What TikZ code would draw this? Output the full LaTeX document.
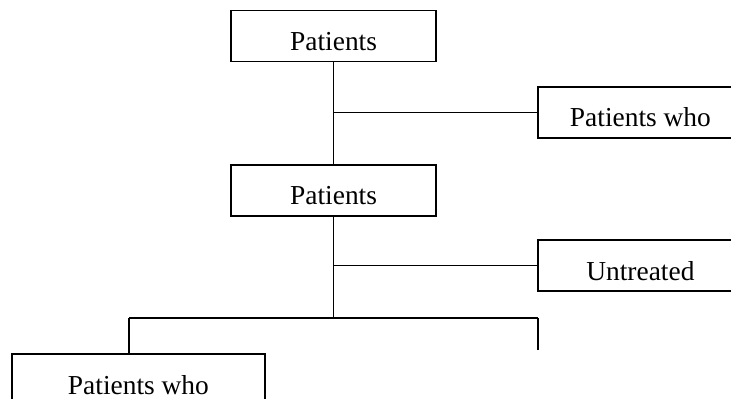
\documentclass[tikz,border=0pt]{standalone}
\usepackage{fontspec}
\setmainfont{Liberation Serif}
\usepackage{tikz}
\usetikzlibrary{calc,positioning}

\tikzset{
	boxnode/.style={draw, rectangle, line width=1pt, inner sep=0pt,
		minimum width=5.125cm, text height=1cm, text depth=0.275cm,
		font=\fontsize{19.5}{23}\selectfont},
	link/.style={line width=1pt}
}

\begin{document}
\begin{tikzpicture}
	\useasboundingbox (0,0) rectangle (18.275,9.95);
	\clip (0,0) rectangle (18.275,9.95);

	% Boxes down the main line
	\node [boxnode] (top) at (8.34, 9.05) {Patients};
	\node [boxnode] (mid) at (8.34, 5.19) {Patients};

	% Boxes off to the right
	\node [boxnode] (outone) at (16.01, 7.14) {Patients who};
	\node [boxnode] (untreated) at (16.01, 3.31) {Untreated};

	% Box at the bottom left
	\node [boxnode, minimum width=6.325cm] (low) at (3.46, 0.46) {Patients who};

	% Split points
	\coordinate (split) at (8.34, 2.0);
	\coordinate (lft) at (3.225, 2.0);
	\coordinate (rgt) at (13.45, 2.0);
	\coordinate (rgtend) at (13.45, 1.2);

	% Main line and branches
	\draw [link] (top.south) -- (mid.north);
	\draw [link] (top.south |- outone.west) -- (outone.west);
	\draw [link] (mid.south) -- (split);
	\draw [link] (mid.south |- untreated.west) -- (untreated.west);
	\draw [link] (lft) -- (rgt);
	\draw [link] (lft) -- (lft |- low.north);
	\draw [link] (rgt) -- (rgtend);
\end{tikzpicture}
\end{document}
